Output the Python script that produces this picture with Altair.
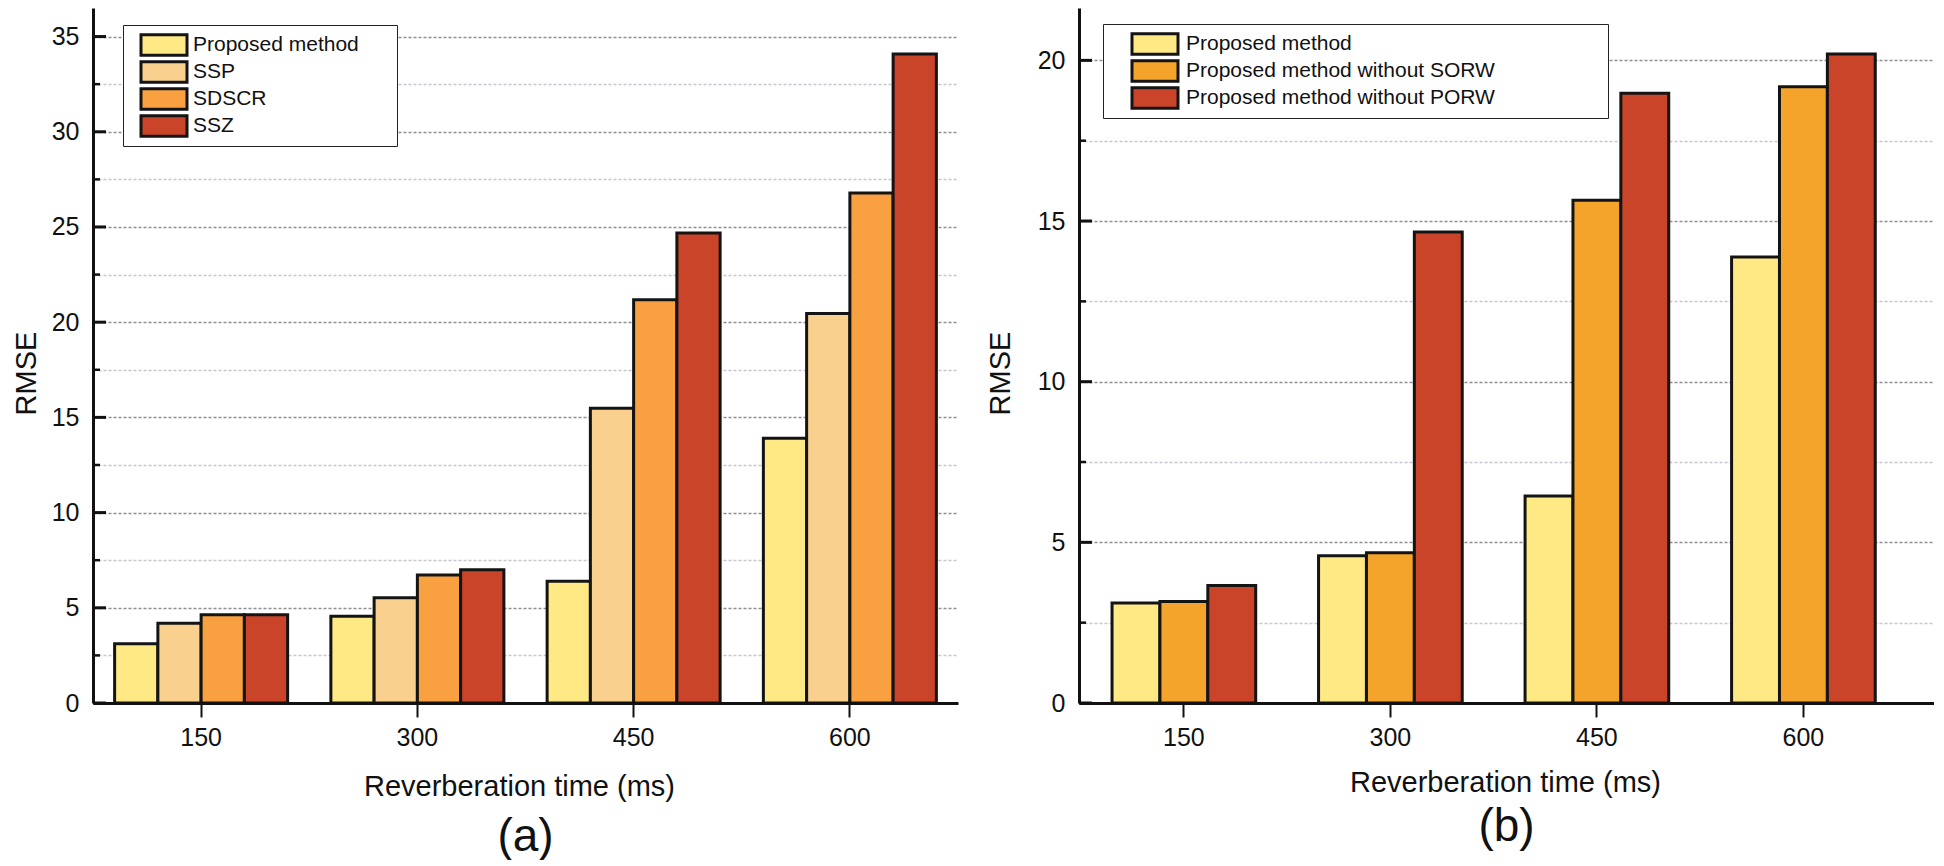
import altair as alt
import pandas as pd

FONT = "Liberation Sans"
BLANK = "\u2800"  # blank pattern used only to widen the legend frame

# ---------------- data ----------------
times = ["150", "300", "450", "600"]

methods_a = ["Proposed method", "SSP", "SDSCR", "SSZ"]
colors_a = ["#FFE984", "#FAD08F", "#F9A141", "#CA4429"]
proposed_a = [3.11, 4.56, 6.40, 13.90]
ssp_a = [4.19, 5.53, 15.48, 20.46]
sdscr_a = [4.63, 6.72, 21.18, 26.78]
ssz_a = [4.63, 7.00, 24.68, 34.09]

methods_b = ["Proposed method", "Proposed method without SORW", "Proposed method without PORW"]
colors_b = ["#FFE984", "#F4A42B", "#CA4429"]
proposed_b = [3.11, 4.58, 6.44, 13.88]
no_sorw_b = [3.16, 4.68, 15.65, 19.18]
no_porw_b = [3.66, 14.66, 18.98, 20.20]

yticks_a = [0, 2.5, 5, 7.5, 10, 12.5, 15, 17.5, 20, 22.5, 25, 27.5, 30, 32.5, 35]
ymajor_a = [0, 5, 10, 15, 20, 25, 30, 35]
yminor_a = [2.5, 7.5, 12.5, 17.5, 22.5, 27.5, 32.5]
yticks_b = [0, 2.5, 5, 7.5, 10, 12.5, 15, 17.5, 20]
ymajor_b = [0, 5, 10, 15, 20]
yminor_b = [2.5, 7.5, 12.5, 17.5]


def long_df(methods, series):
    rows = []
    for m, vals in zip(methods, series):
        for t, v in zip(times, vals):
            rows.append({"time": t, "method": m, "rmse": v})
    return pd.DataFrame(rows)


df_a = long_df(methods_a, [proposed_a, ssp_a, sdscr_a, ssz_a])
df_b = long_df(methods_b, [proposed_b, no_sorw_b, no_porw_b])

SWATCH = "M-2,-0.9H2V0.9H-2Z"


def panel(df, methods, colors, yticks, ymajor, yminor, ymax, width, band,
          legend_xy, sym_off, lab_off, row_pad, pad_chars, ytitle_x, xtitle_y,
          title, title_off):
    pi, po, al = band
    x = alt.X(
        "time:N", sort=times,
        scale=alt.Scale(paddingInner=pi, paddingOuter=po, align=al),
        axis=alt.Axis(
            title="Reverberation time (ms)", labelAngle=0, labelFontSize=25,
            labelPadding=8, tickSize=14, tickWidth=2, tickColor="#111",
            domainWidth=3, domainColor="#111", grid=False, zindex=1,
            titleFontSize=29, titleX=426, titleY=xtitle_y,
            titleBaseline="alphabetic", titleAlign="center",
        ),
    )
    y = alt.Y(
        "rmse:Q",
        scale=alt.Scale(domain=[0, ymax], nice=False, zero=True),
        axis=alt.Axis(
            values=yticks, labelExpr="datum.value % 5 === 0 ? datum.label : ''",
            labelOverlap=False, ticks=False, grid=True,
            gridColor={"condition": {"test": "datum.value % 5 === 0", "value": "#8f8f8f"},
                       "value": "#c6c6d0"},
            gridDash=[3, 2], gridWidth=1.3,
            domainWidth=3, domainColor="#111", labelPadding=14, labelFontSize=25,
            title="RMSE", titleFontSize=29, titleX=ytitle_x, titleY=365,
            titleAngle=270, titleBaseline="alphabetic", titleAlign="center",
        ),
    )
    bars = alt.Chart(df).mark_bar(stroke="#141414", strokeWidth=3).encode(
        x=x,
        xOffset=alt.XOffset("method:N", sort=methods,
                            scale=alt.Scale(domain=methods, paddingInner=0, paddingOuter=0)),
        y=y,
        color=alt.Color(
            "method:N", sort=methods,
            scale=alt.Scale(domain=methods, range=colors),
            legend=alt.Legend(
                orient="none", legendX=legend_xy[0], legendY=legend_xy[1], title=None,
                symbolType=SWATCH, symbolSize=529, symbolStrokeColor="#141414",
                symbolStrokeWidth=3, symbolOpacity=1, symbolOffset=sym_off,
                labelOffset=lab_off, rowPadding=row_pad, padding=8, clipHeight=24,
                strokeColor="#222", fillColor="white",
                labelFont=FONT, labelFontSize=21, labelColor="#111", labelLimit=0,
                labelExpr="datum.label + '" + BLANK * pad_chars + "'",
            ),
        ),
    )
    major = alt.Chart(pd.DataFrame({"rmse": ymajor})).mark_rule(
        color="#111", strokeWidth=3).encode(
        y=alt.Y("rmse:Q"), x=alt.value(0), x2=alt.value(13))
    minor = alt.Chart(pd.DataFrame({"rmse": yminor})).mark_rule(
        color="#111", strokeWidth=2.5).encode(
        y=alt.Y("rmse:Q"), x=alt.value(0), x2=alt.value(7))
    return alt.layer(bars, major, minor).properties(
        width=width, height=695,
        title=alt.TitleParams(title, orient="bottom", anchor="middle", frame="group",
                              fontSize=46, font=FONT, fontWeight="normal",
                              color="#111", offset=title_off),
    )


left = panel(df_a, methods_a, colors_a, yticks_a, ymajor_a, yminor_a, 36.5, 865,
             (0.2, 0.1, 0.5), (30, 17), 20, 16, 3, 2, -58, 92, "(a)", 14)
right = panel(df_b, methods_b, colors_b, yticks_b, ymajor_b, yminor_b, 21.63, 855,
              (0.3043, 0.2222, 0.36), (24, 16), 31, 18, 3, 7, -70, 88, "(b)", 8)

chart = (
    alt.hconcat(left, right, spacing=121, bounds="flush")
    .resolve_scale(color="independent", x="independent", y="independent",
                   xOffset="independent")
    .resolve_legend(color="independent")
    .properties(padding={"left": 4, "top": 0, "right": 0, "bottom": 0})
    .configure_axis(labelFont=FONT, titleFont=FONT, labelColor="#111",
                    titleColor="#111", titleFontWeight="normal")
    .configure_view(stroke=None)
)

chart.save("out.html", embed_options={"renderer": "svg", "actions": False})
